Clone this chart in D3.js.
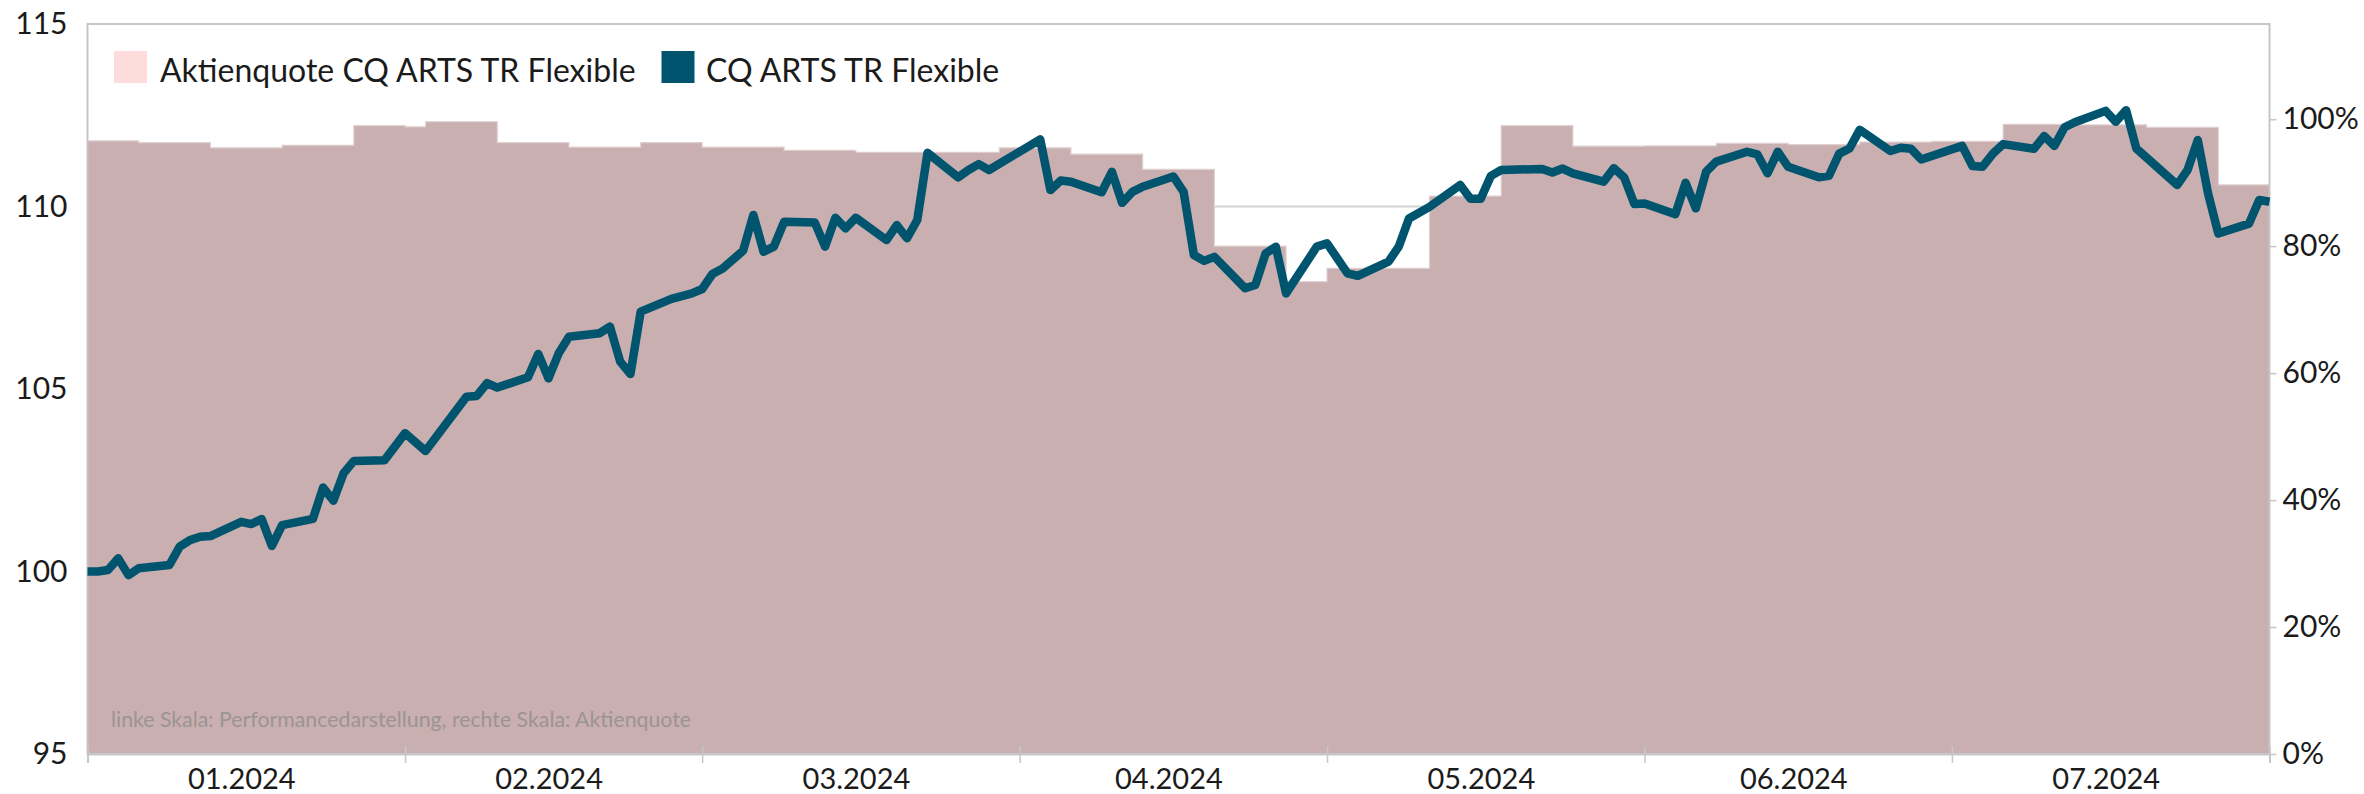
<!DOCTYPE html>
<html><head><meta charset="utf-8">
<script src="https://cdn.jsdelivr.net/npm/d3@7"></script>
<style>html,body{margin:0;padding:0;background:#fff;} svg{display:block;font-family:Lato,'Open Sans',sans-serif;}</style>
</head><body><svg id="c" width="2364" height="794"></svg>
<script>
// ---------- data ----------
const perfDates = ["2024-01-01","2024-01-02","2024-01-03","2024-01-04","2024-01-05","2024-01-06","2024-01-09","2024-01-10","2024-01-11","2024-01-12","2024-01-13","2024-01-16","2024-01-17","2024-01-18","2024-01-19","2024-01-20","2024-01-23","2024-01-24","2024-01-25","2024-01-26","2024-01-27","2024-01-30","2024-02-01","2024-02-03","2024-02-07","2024-02-08","2024-02-09","2024-02-10","2024-02-13","2024-02-14","2024-02-15","2024-02-16","2024-02-17","2024-02-20","2024-02-21","2024-02-22","2024-02-23","2024-02-24","2024-02-27","2024-02-29","2024-03-01","2024-03-02","2024-03-03","2024-03-05","2024-03-06","2024-03-07","2024-03-08","2024-03-09","2024-03-12","2024-03-13","2024-03-14","2024-03-15","2024-03-16","2024-03-19","2024-03-20","2024-03-21","2024-03-22","2024-03-23","2024-03-26","2024-03-27","2024-03-28","2024-03-29","2024-04-03","2024-04-04","2024-04-05","2024-04-06","2024-04-09","2024-04-10","2024-04-11","2024-04-12","2024-04-13","2024-04-16","2024-04-17","2024-04-18","2024-04-19","2024-04-20","2024-04-23","2024-04-24","2024-04-25","2024-04-26","2024-04-27","2024-04-30","2024-05-01","2024-05-03","2024-05-04","2024-05-07","2024-05-08","2024-05-09","2024-05-11","2024-05-14","2024-05-15","2024-05-16","2024-05-17","2024-05-18","2024-05-22","2024-05-23","2024-05-24","2024-05-25","2024-05-28","2024-05-29","2024-05-30","2024-05-31","2024-06-01","2024-06-04","2024-06-05","2024-06-06","2024-06-07","2024-06-08","2024-06-11","2024-06-12","2024-06-13","2024-06-14","2024-06-15","2024-06-18","2024-06-19","2024-06-20","2024-06-21","2024-06-22","2024-06-25","2024-06-26","2024-06-27","2024-06-28","2024-07-02","2024-07-03","2024-07-04","2024-07-05","2024-07-06","2024-07-09","2024-07-10","2024-07-11","2024-07-12","2024-07-13","2024-07-16","2024-07-17","2024-07-18","2024-07-19","2024-07-23","2024-07-24","2024-07-25","2024-07-26","2024-07-27","2024-07-30","2024-07-31","2024-08-01"];
const perfValues = [100.00,100.00,100.04,100.36,99.90,100.09,100.18,100.68,100.86,100.95,100.97,101.36,101.30,101.44,100.70,101.27,101.44,102.30,101.94,102.69,103.03,103.05,103.79,103.30,104.79,104.81,105.16,105.04,105.32,105.96,105.29,105.98,106.43,106.53,106.71,105.75,105.41,107.12,107.47,107.62,107.74,108.15,108.30,108.79,109.77,108.76,108.90,109.58,109.56,108.90,109.69,109.40,109.69,109.08,109.49,109.13,109.63,111.47,110.80,111.00,111.16,111.00,111.84,110.45,110.71,110.68,110.39,110.95,110.10,110.40,110.54,110.82,110.40,108.67,108.51,108.62,107.76,107.85,108.71,108.90,107.62,108.90,108.99,108.17,108.10,108.49,108.90,109.67,109.99,110.59,110.21,110.21,110.84,111.00,111.03,110.93,111.04,110.91,110.68,111.05,110.80,110.07,110.08,109.79,110.65,109.95,110.95,111.23,111.50,111.43,110.91,111.50,111.09,110.80,110.84,111.45,111.59,112.10,111.52,111.61,111.58,111.29,111.66,111.11,111.09,111.45,111.71,111.58,111.93,111.66,112.17,112.31,112.62,112.32,112.64,111.59,110.59,111.00,111.82,110.36,109.26,109.53,110.18,110.13];

const quotaStarts = ["2024-01-01","2024-01-06","2024-01-13","2024-01-20","2024-01-27","2024-02-01","2024-02-03","2024-02-10","2024-02-17","2024-02-24","2024-03-01","2024-03-09","2024-03-16","2024-03-30","2024-04-06","2024-04-13","2024-04-20","2024-04-27","2024-05-01","2024-05-11","2024-05-18","2024-05-25","2024-06-01","2024-06-08","2024-06-15","2024-06-22","2024-06-29","2024-07-06","2024-07-13","2024-07-20","2024-07-27"];
const quotaValues = [0.966,0.963,0.955,0.959,0.990,0.988,0.996,0.963,0.956,0.963,0.956,0.951,0.948,0.955,0.945,0.921,0.800,0.744,0.765,0.879,0.990,0.9575,0.958,0.962,0.960,0.964,0.965,0.992,0.991,0.987,0.8965];
const quotaEnd = "2024-08-01";

const monthTicks = ["2024-01-01","2024-02-01","2024-03-01","2024-04-01","2024-05-01","2024-06-01","2024-07-01","2024-08-01"];
const monthLabels = ["01.2024","02.2024","03.2024","04.2024","05.2024","06.2024","07.2024"];
const leftTicks = [95,100,105,110,115];
const rightTicks = [0,0.2,0.4,0.6,0.8,1.0];
const legendLabels = ["Aktienquote CQ ARTS TR Flexible","CQ ARTS TR Flexible"];
const noteText = "linke Skala: Performancedarstellung, rechte Skala: Aktienquote";

// ---------- setup ----------
const m = {left:87.5, right:2269.5, top:24, bottom:754};
const parse = d3.utcParse("%Y-%m-%d");
const svg = d3.select("#c");
const x = d3.scaleUtc().domain([parse(monthTicks[0]), parse(monthTicks[monthTicks.length-1])]).range([m.left, m.right]);
const yL = d3.scaleLinear().domain([95,115]).range([m.bottom, m.top]);
const yR = d3.scaleLinear().domain([0,1.15]).range([m.bottom, m.top]);

const COL_AREA = "#caafb0", COL_LINE = "#00546e", COL_GRID = "#d4d4d4", COL_TXT = "#1b1b1b";

// gridlines (behind the area)
svg.append("g").selectAll("line").data(leftTicks.slice(1,-1)).join("line")
  .attr("x1", m.left).attr("x2", m.right)
  .attr("y1", d=>yL(d)).attr("y2", d=>yL(d))
  .attr("stroke", COL_GRID).attr("stroke-width", 2);

// area (Aktienquote)
const qData = quotaStarts.map((d,i)=>({date:parse(d), v:quotaValues[i]}));
qData.push({date:parse(quotaEnd), v:quotaValues[quotaValues.length-1]});
const area = d3.area().x(d=>x(d.date)).y0(yR(0)).y1(d=>yR(d.v)).curve(d3.curveStepAfter);
svg.append("path").datum(qData).attr("d", area).attr("fill", COL_AREA);
const topLine = d3.line().x(d=>x(d.date)).y(d=>yR(d.v)).curve(d3.curveStepAfter);
svg.append("path").datum(qData).attr("d", topLine).attr("fill","none").attr("stroke","#ded0d0").attr("stroke-width",1.2);

// frame
svg.append("rect").attr("x", m.left).attr("y", m.top).attr("width", m.right-m.left).attr("height", m.bottom-m.top)
  .attr("fill","none").attr("stroke","#c6c6c6").attr("stroke-width",2);

// x axis ticks (cross the axis)
const gx = svg.append("g").attr("transform", `translate(0,${m.bottom})`)
  .call(d3.axisBottom(x).tickValues(monthTicks.map(parse)).tickSize(9).tickFormat(""));
gx.select(".domain").attr("stroke","#c6c6c6").attr("stroke-width",2);
gx.selectAll(".tick line").attr("y1",-8).attr("stroke","#c6c6c6").attr("stroke-width",1.5);

// x axis labels centered in each month
const labelDates = monthTicks.slice(0,-1).map((d,i)=>new Date((parse(d).getTime()+parse(monthTicks[i+1]).getTime())/2));
const gxl = svg.append("g").attr("transform", `translate(-5,${m.bottom})`)
  .call(d3.axisBottom(x).tickValues(labelDates).tickSize(0).tickPadding(14).tickFormat((d,i)=>monthLabels[i]));
gxl.select(".domain").remove();
gxl.selectAll("text").attr("font-size",29).attr("font-family","Lato").attr("fill",COL_TXT);

// left axis
const gl = svg.append("g").attr("transform", `translate(${m.left},0)`)
  .call(d3.axisLeft(yL).tickValues(leftTicks).tickSize(0).tickPadding(20).tickFormat(d3.format("d")));
gl.select(".domain").remove();
gl.selectAll("text").attr("font-size",30).attr("font-family","Lato").attr("fill",COL_TXT);

// right axis
const gr = svg.append("g").attr("transform", `translate(${m.right},0)`)
  .call(d3.axisRight(yR).tickValues(rightTicks).tickSize(7).tickPadding(6).tickFormat(d3.format(".0%")));
gr.select(".domain").remove();
gr.selectAll(".tick line").attr("stroke","#c6c6c6").attr("stroke-width",1.5);
gr.selectAll("text").attr("font-size",30).attr("font-family","Lato").attr("fill",COL_TXT);

// note text
svg.append("text").attr("x",111).attr("y",727).attr("font-size",21.3).attr("fill","#9a9494").text(noteText);

// performance line
const pData = perfDates.map((d,i)=>({date:parse(d), v:perfValues[i]}));
const line = d3.line().x(d=>x(d.date)).y(d=>yL(d.v));
svg.append("path").datum(pData).attr("d", line).attr("fill","none")
  .attr("stroke", COL_LINE).attr("stroke-width", 8.5).attr("stroke-linejoin","round").attr("stroke-linecap","butt");

// legend
const legend = svg.append("g");
const legItems = [{c:"#ffdcdc", x:114, tx:160},{c:COL_LINE, x:661.5, tx:706}];
legItems.forEach((it,i)=>{
  legend.append("rect").attr("x",it.x).attr("y",51).attr("width",33).attr("height",32).attr("fill",it.c);
  legend.append("text").attr("x",it.tx).attr("y",82).attr("font-size",32).attr("fill",COL_TXT).text(legendLabels[i]);
});
</script></body></html>
